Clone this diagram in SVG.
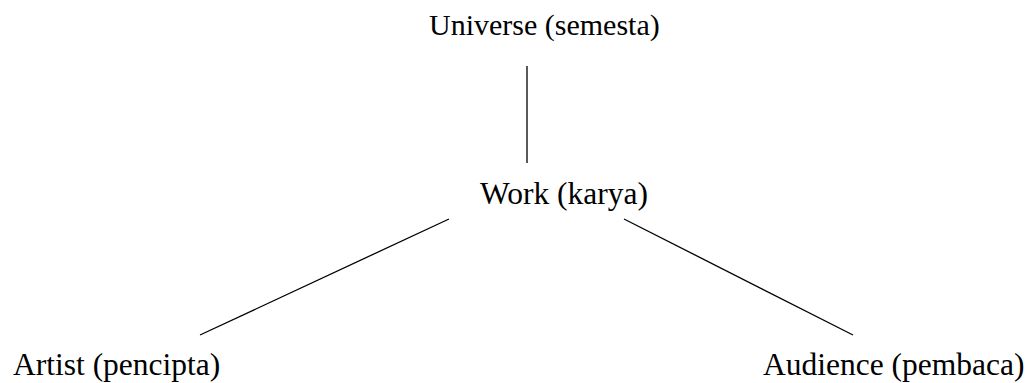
<svg xmlns="http://www.w3.org/2000/svg" width="1028" height="383" viewBox="0 0 1028 383">
<style>
text{font-family:"Liberation Serif","Times New Roman",serif;font-size:31.5px;fill:#000}
.c line{stroke:#000;stroke-width:1.3;fill:none}
</style>
<rect width="1028" height="383" fill="#fff"/>
<g id="universe"><text x="429" y="35" style="font-size:30px">Universe (semesta)</text></g>
<g id="work"><text x="480" y="204">Work (karya)</text></g>
<g id="artist"><text x="13" y="375">Artist (pencipta)</text></g>
<g id="audience"><text x="763" y="375">Audience (pembaca)</text></g>
<g class="c" id="connectors">
<line x1="527" y1="66" x2="527" y2="163"/>
<line x1="449" y1="219" x2="200" y2="335"/>
<line x1="624" y1="219" x2="853" y2="335"/>
</g>
</svg>
